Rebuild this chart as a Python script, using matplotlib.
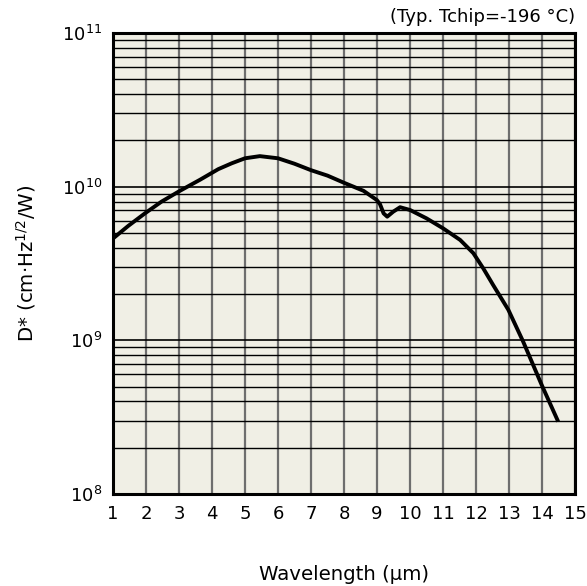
import matplotlib
matplotlib.use("Agg")
import matplotlib.pyplot as plt
from matplotlib.ticker import LogLocator, FixedLocator

# values
wavelength = [1.0, 1.46, 1.97, 2.47, 3.03, 3.64, 4.19, 4.6, 5.0, 5.45, 6.0, 6.5, 7.0,
              7.5, 8.0, 8.59, 8.99, 9.09, 9.2, 9.31, 9.49, 9.7, 10.0, 10.5, 11.0, 11.52,
              11.92, 12.22, 12.52, 12.98, 13.43, 13.99, 14.49]
dstar = [4.6e9, 5.55e9, 6.71e9, 7.99e9, 9.4e9, 1.11e10, 1.3e10, 1.42e10, 1.53e10, 1.58e10,
         1.53e10, 1.41e10, 1.28e10, 1.18e10, 1.06e10, 9.4e9, 8.2e9, 7.7e9, 6.7e9, 6.38e9,
         6.87e9, 7.35e9, 7.05e9, 6.22e9, 5.36e9, 4.5e9, 3.69e9, 2.94e9, 2.29e9, 1.58e9,
         9.8e8, 5.13e8, 2.96e8]
x_ticks = list(range(1, 16))
note = "(Typ. Tchip=-196 °C)"

fig = plt.figure(figsize=(5.87, 5.86), dpi=100)
ax = fig.add_axes([113 / 587, 1 - 494 / 586, 462 / 587, 461 / 586])
ax.set_facecolor("#f0efe5")

ax.plot(wavelength, dstar, color="black", lw=2.8, solid_joinstyle="round",
        solid_capstyle="butt", zorder=3)

ax.set_yscale("log")
ax.set_xlim(1, 15)
ax.set_ylim(1e8, 1e11)
ax.xaxis.set_major_locator(FixedLocator(x_ticks))
ax.yaxis.set_major_locator(LogLocator(base=10, numticks=10))
ax.yaxis.set_minor_locator(LogLocator(base=10, subs=range(2, 10), numticks=20))

ax.grid(True, axis="x", which="major", color="#6e6e6e", lw=1.6)
ax.grid(True, axis="y", which="major", color="black", lw=1.2)
ax.grid(True, axis="y", which="minor", color="black", lw=1.0)
ax.tick_params(which="both", length=0, labelsize=13, pad=8)
ax.tick_params(axis="y", which="minor", labelleft=False)

for s in ax.spines.values():
    s.set_linewidth(2.2)
    s.set_color("black")

ax.set_xlabel("Wavelength (μm)", fontsize=14.2, labelpad=30)
ax.set_ylabel("D* (cm·Hz$^{1/2}$/W)", fontsize=14.2, labelpad=17)
fig.text(575 / 587, 1 - 17 / 586, note, ha="right", va="center", fontsize=13)

fig.savefig("out.png", dpi=100)
